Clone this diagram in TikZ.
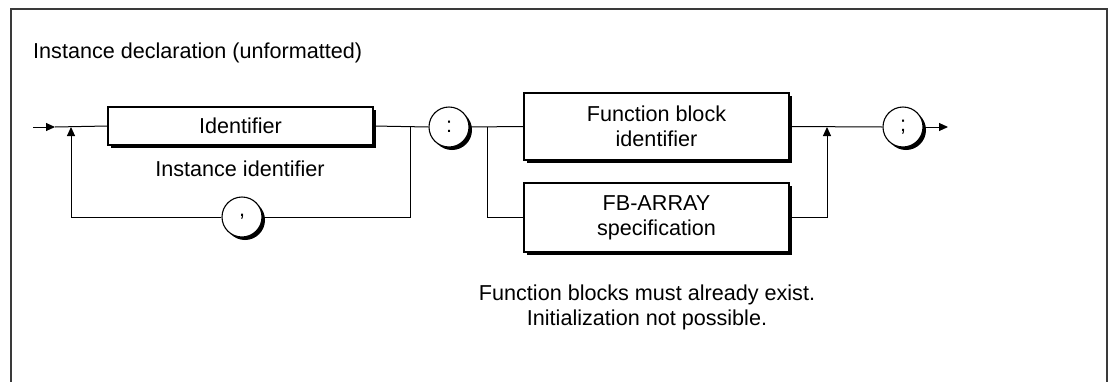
\documentclass[tikz,border=0pt]{standalone}
\usepackage{fontspec}
\setmainfont{Liberation Sans}
\usetikzlibrary{arrows.meta,shadows}
\definecolor{rahmen}{HTML}{3A3A3A}
\tikzset{
  txt/.style={font=\fontsize{21.6}{25}\selectfont,inner sep=0pt},
  synbox/.style={txt,draw,fill=white,line width=1.1pt,align=center,minimum width=265pt,
    drop shadow={shadow xshift=3pt,shadow yshift=-3pt,fill=black,opacity=1}},
  term/.style={txt,circle,draw,fill=white,line width=1.1pt,minimum size=40pt,
    drop shadow={shadow xshift=3pt,shadow yshift=-3pt,fill=black,opacity=1}},
  conn/.style={line width=1pt},
  arr/.style={conn,-{Triangle[length=9pt,width=8pt]}}
}

\begin{document}
\begin{tikzpicture}[x=1pt,y=-1pt]
  \useasboundingbox (0,0) rectangle (1112,381);
  \draw[rahmen,line width=2pt] (11,383) -- (11,9) -- (1107,9) -- (1107,383);
  \node[txt,anchor=base west] (title) at (33,58) {Instance declaration (unformatted)};
  \coordinate (start) at (33,127); \coordinate (entry) at (55,127);
  \coordinate (jl) at (71,127); \coordinate (jr) at (410,127);
  \coordinate (sp) at (487,127); \coordinate (mg) at (827,127);
  \coordinate (exit) at (948,127);
  \node[synbox,minimum height=38pt] (ident) at (240.5,126) {Identifier};
  \node[txt,anchor=base] (instid) at (240,176) {Instance identifier};
  \node[term] (comma) at (242,217) {,};
  \node[term] (colon) at (449,127) {:};
  \node[synbox,minimum height=67pt] (fbid) at (656.5,126.5) {Function block\\identifier};
  \node[synbox,minimum height=69pt] (fbarr) at (656.5,217.5) {FB-ARRAY\\specification};
  \node[term] (semi) at (903,127) {;};
  \node[txt,align=center,anchor=base] (note) at (647,325) {Function blocks must already exist.\\Initialization not possible.};
  \draw[arr] (start) -- (entry);
  \draw[conn] (entry) -- (ident.west);
  \draw[conn] (ident.east) -- (colon.west);
  \draw[conn] (jr) |- (comma.east);
  \draw[arr] (comma.west) -| (jl);
  \draw[conn] (colon.east) -- (fbid.west);
  \draw[conn] (sp) |- (fbarr.west);
  \draw[conn] (fbid.east) -- (semi.west);
  \draw[arr] (fbarr.east) -| (mg);
  \draw[arr] (semi.east) -- (exit);
\end{tikzpicture}
\end{document}
